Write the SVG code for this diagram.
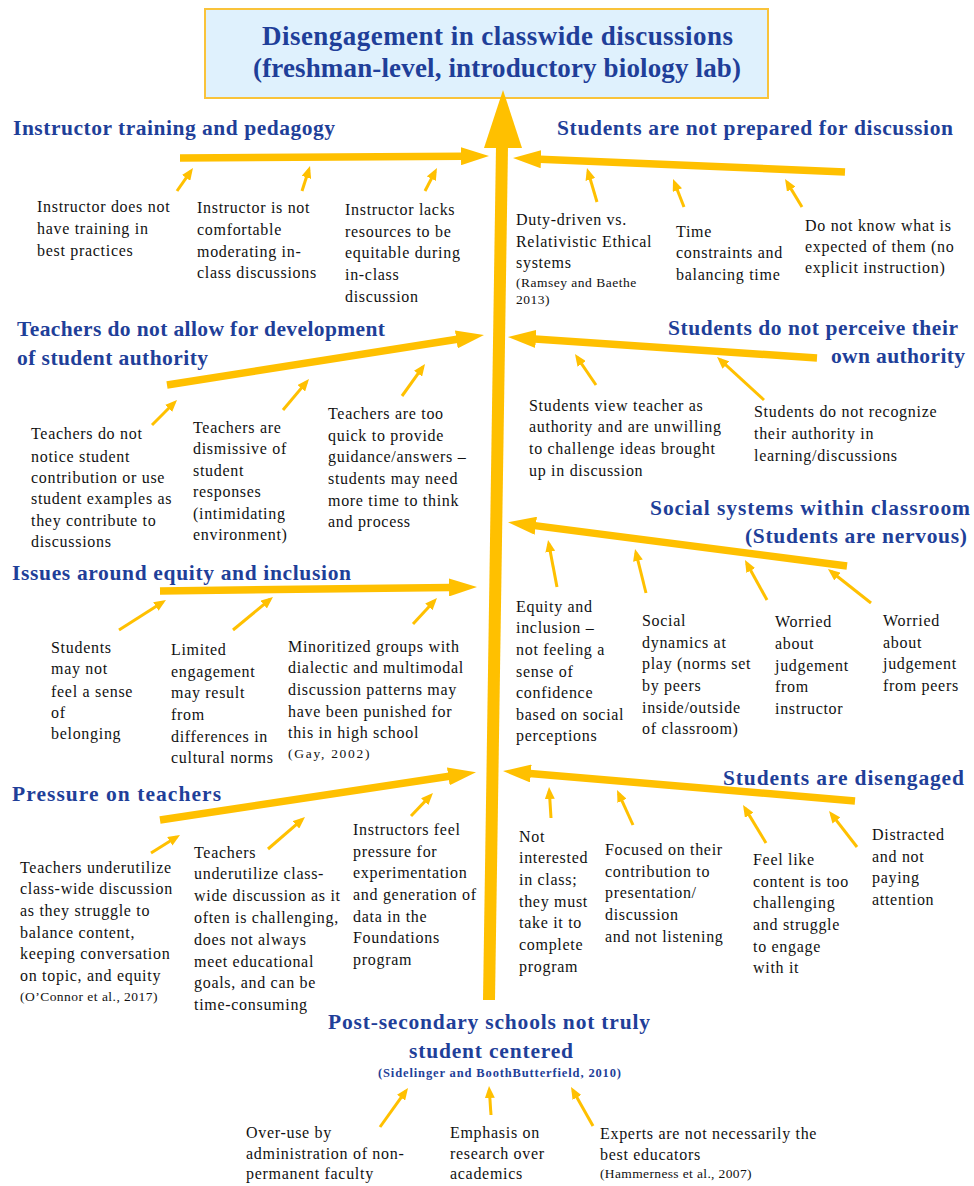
<svg xmlns="http://www.w3.org/2000/svg" width="974" height="1186" viewBox="0 0 974 1186">
  <defs>
    <style>
      .t { font-family: "Liberation Serif", "Times New Roman", serif; font-size: 16px; letter-spacing: 0.7px; fill: #111111; }
      .s { font-size: 13.5px; letter-spacing: 0.5px; }
      .h { font-family: "Liberation Serif", "Times New Roman", serif; font-weight: bold; font-size: 21.5px; fill: #1F3F99; }
      .ttl { font-size: 27px; }
      .cite { font-size: 12.5px; }
      .thick { fill: none; stroke: #FFC000; stroke-width: 7.5; marker-end: url(#bigHead); }
      .thin { fill: none; stroke: #FFC000; stroke-width: 3; marker-end: url(#smallHead); }
      .trunk { fill: none; stroke: #FFC000; stroke-width: 12; }
      .head { fill: #FFC000; }
    </style>
    <marker id="bigHead" viewBox="0 0 28 18" markerWidth="28" markerHeight="18" refX="1" refY="9" markerUnits="userSpaceOnUse" orient="auto">
      <path d="M0,0 L28,9 L0,18 Z" fill="#FFC000"/>
    </marker>
    <marker id="smallHead" viewBox="0 0 12 10" markerWidth="12" markerHeight="10" refX="8" refY="5" markerUnits="userSpaceOnUse" orient="auto">
      <path d="M0,0 L12,5 L0,10 Z" fill="#FFC000"/>
    </marker>
  </defs>

  <rect width="974" height="1186" fill="#FFFFFF"/>

  <!-- Effect box -->
  <g id="title">
    <rect x="205" y="9" width="563" height="89" fill="#DFF1FD" stroke="#F9C33A" stroke-width="2"/>
    <text class="h ttl" x="262" y="45" textLength="471" lengthAdjust="spacing">Disengagement in classwide discussions</text>
    <text class="h ttl" x="253" y="77" textLength="488" lengthAdjust="spacing">(freshman-level, introductory biology lab)</text>
  </g>

  <!-- Connectors: spine, category bones and cause arrows -->
  <g id="connectors">
    <path class="trunk" d="M489,1000 L502,146"/>
    <polygon class="head" points="503,90 522,148 484,148"/>

    <path class="thick" d="M180,158 L462,156.2"/>
    <path class="thick" d="M845,172 L540,159.2"/>
    <path class="thick" d="M167,385 L457.3,339.3"/>
    <path class="thick" d="M817,358 L534.9,338.9"/>
    <path class="thick" d="M847,566 L534.8,525.6"/>
    <path class="thick" d="M160,591 L450,587.4"/>
    <path class="thick" d="M160,820 L449.3,776.2"/>
    <path class="thick" d="M855,801 L529.9,773.4"/>

    <path class="thin" d="M177,191 L190.7,171.3"/>
    <path class="thin" d="M302,191 L308.8,169.8"/>
    <path class="thin" d="M425,191 L435.1,171.6"/>

    <path class="thin" d="M597,202 L588.1,171.8"/>
    <path class="thin" d="M684,207 L674.5,182.7"/>
    <path class="thin" d="M802,207 L787.1,182.4"/>

    <path class="thin" d="M152,425 L174.2,402.8"/>
    <path class="thin" d="M283,410 L306.4,382.1"/>
    <path class="thin" d="M402,396 L422.7,367.2"/>

    <path class="thin" d="M596,385 L577.2,357.3"/>
    <path class="thin" d="M764,400 L720,359.7"/>

    <path class="thin" d="M557,587 L548.8,543.9"/>
    <path class="thin" d="M646,593 L636,552.9"/>
    <path class="thin" d="M767,600 L746.9,563.5"/>
    <path class="thin" d="M871,603 L831.1,571.5"/>

    <path class="thin" d="M119,630 L162.6,602.2"/>
    <path class="thin" d="M233,630 L269.9,599.5"/>
    <path class="thin" d="M413,624 L434.3,600.9"/>

    <path class="thin" d="M151,853 L176.6,837.1"/>
    <path class="thin" d="M268,849 L302,819.6"/>
    <path class="thin" d="M411,816 L430.2,795.9"/>

    <path class="thin" d="M551,818 L549.3,791"/>
    <path class="thin" d="M633,825 L618.7,793.6"/>
    <path class="thin" d="M766,843 L745.1,808.4"/>
    <path class="thin" d="M857,847 L831.5,814.2"/>

    <path class="thin" d="M380,1127 L405.7,1091.2"/>
    <path class="thin" d="M491,1115 L489.3,1090"/>
    <path class="thin" d="M593,1126 L573,1090.5"/>
  </g>

  <!-- Category: instructor training -->
  <g id="cat-instructor">
    <text class="h" x="13" y="135" textLength="322" lengthAdjust="spacing">Instructor training and pedagogy</text>
  </g>
  <g id="c-no-training">
    <text class="t"><tspan x="37" y="212">Instructor does not</tspan><tspan x="37" y="234">have training in</tspan><tspan x="37" y="256">best practices</tspan></text>
  </g>
  <g id="c-not-comfortable">
    <text class="t"><tspan x="197" y="213">Instructor is not</tspan><tspan x="197" y="235">comfortable</tspan><tspan x="197" y="257">moderating in-</tspan><tspan x="197" y="278">class discussions</tspan></text>
  </g>
  <g id="c-lacks-resources">
    <text class="t"><tspan x="345" y="215">Instructor lacks</tspan><tspan x="345" y="237">resources to be</tspan><tspan x="345" y="258">equitable during</tspan><tspan x="345" y="280">in-class</tspan><tspan x="345" y="302">discussion</tspan></text>
  </g>

  <!-- Category: students not prepared -->
  <g id="cat-not-prepared">
    <text class="h" x="557" y="135" textLength="396" lengthAdjust="spacing">Students are not prepared for discussion</text>
  </g>
  <g id="c-ethical-systems">
    <text class="t"><tspan x="516" y="225">Duty-driven vs.</tspan><tspan x="516" y="247">Relativistic Ethical</tspan><tspan x="516" y="268">systems</tspan><tspan class="s" x="516" y="287">(Ramsey and Baethe</tspan><tspan class="s" x="516" y="304">2013)</tspan></text>
  </g>
  <g id="c-time">
    <text class="t"><tspan x="676" y="237">Time</tspan><tspan x="676" y="258">constraints and</tspan><tspan x="676" y="280">balancing time</tspan></text>
  </g>
  <g id="c-expectations">
    <text class="t"><tspan x="805" y="231">Do not know what is</tspan><tspan x="805" y="252">expected of them (no</tspan><tspan x="805" y="273">explicit instruction)</tspan></text>
  </g>

  <!-- Category: teachers and student authority -->
  <g id="cat-teacher-authority">
    <text class="h" x="17" y="336" textLength="368" lengthAdjust="spacing">Teachers do not allow for development</text>
    <text class="h" x="17" y="365" textLength="191" lengthAdjust="spacing">of student authority</text>
  </g>
  <g id="c-not-notice">
    <text class="t"><tspan x="31" y="439">Teachers do not</tspan><tspan x="31" y="462">notice student</tspan><tspan x="31" y="483">contribution or use</tspan><tspan x="31" y="504">student examples as</tspan><tspan x="31" y="526">they contribute to</tspan><tspan x="31" y="547">discussions</tspan></text>
  </g>
  <g id="c-dismissive">
    <text class="t"><tspan x="193" y="433">Teachers are</tspan><tspan x="193" y="454">dismissive of</tspan><tspan x="193" y="476">student</tspan><tspan x="193" y="497">responses</tspan><tspan x="193" y="519">(intimidating</tspan><tspan x="193" y="540">environment)</tspan></text>
  </g>
  <g id="c-too-quick">
    <text class="t"><tspan x="328" y="419">Teachers are too</tspan><tspan x="328" y="441">quick to provide</tspan><tspan x="328" y="462">guidance/answers  –</tspan><tspan x="328" y="484">students may need</tspan><tspan x="328" y="506">more time to think</tspan><tspan x="328" y="527">and process</tspan></text>
  </g>

  <!-- Category: students' own authority -->
  <g id="cat-own-authority">
    <text class="h" x="668" y="335" textLength="290" lengthAdjust="spacing">Students do not perceive their</text>
    <text class="h" x="831" y="363" textLength="134" lengthAdjust="spacing">own authority</text>
  </g>
  <g id="c-teacher-as-authority">
    <text class="t"><tspan x="529" y="411">Students view teacher as</tspan><tspan x="529" y="432">authority and are unwilling</tspan><tspan x="529" y="454">to challenge ideas brought</tspan><tspan x="529" y="476">up in discussion</tspan></text>
  </g>
  <g id="c-not-recognize">
    <text class="t"><tspan x="754" y="417">Students do not recognize</tspan><tspan x="754" y="439">their authority in</tspan><tspan x="754" y="461">learning/discussions</tspan></text>
  </g>

  <!-- Category: social systems -->
  <g id="cat-social">
    <text class="h" x="650" y="515" textLength="320" lengthAdjust="spacing">Social systems within classroom</text>
    <text class="h" x="745" y="543" textLength="222" lengthAdjust="spacing">(Students are nervous)</text>
  </g>
  <g id="c-confidence">
    <text class="t"><tspan x="516" y="612">Equity and</tspan><tspan x="516" y="633">inclusion –</tspan><tspan x="516" y="655">not feeling a</tspan><tspan x="516" y="677">sense of</tspan><tspan x="516" y="698">confidence</tspan><tspan x="516" y="720">based on social</tspan><tspan x="516" y="741">perceptions</tspan></text>
  </g>
  <g id="c-social-dynamics">
    <text class="t"><tspan x="642" y="626">Social</tspan><tspan x="642" y="648">dynamics at</tspan><tspan x="642" y="669">play (norms set</tspan><tspan x="642" y="691">by peers</tspan><tspan x="642" y="713">inside/outside</tspan><tspan x="642" y="734">of classroom)</tspan></text>
  </g>
  <g id="c-judged-instructor">
    <text class="t"><tspan x="775" y="627">Worried</tspan><tspan x="775" y="649">about</tspan><tspan x="775" y="671">judgement</tspan><tspan x="775" y="692">from</tspan><tspan x="775" y="714">instructor</tspan></text>
  </g>
  <g id="c-judged-peers">
    <text class="t"><tspan x="883" y="626">Worried</tspan><tspan x="883" y="648">about</tspan><tspan x="883" y="669">judgement</tspan><tspan x="883" y="691">from peers</tspan></text>
  </g>

  <!-- Category: equity and inclusion -->
  <g id="cat-equity">
    <text class="h" x="12" y="580" textLength="339" lengthAdjust="spacing">Issues around equity and inclusion</text>
  </g>
  <g id="c-belonging">
    <text class="t"><tspan x="51" y="653">Students</tspan><tspan x="51" y="674">may not</tspan><tspan x="51" y="697">feel a sense</tspan><tspan x="51" y="718">of</tspan><tspan x="51" y="739">belonging</tspan></text>
  </g>
  <g id="c-cultural-norms">
    <text class="t"><tspan x="171" y="655">Limited</tspan><tspan x="171" y="677">engagement</tspan><tspan x="171" y="698">may result</tspan><tspan x="171" y="720">from</tspan><tspan x="171" y="742">differences in</tspan><tspan x="171" y="763">cultural norms</tspan></text>
  </g>
  <g id="c-minoritized">
    <text class="t"><tspan x="288" y="652">Minoritized groups with</tspan><tspan x="288" y="673">dialectic and multimodal</tspan><tspan x="288" y="695">discussion patterns may</tspan><tspan x="288" y="717">have been punished for</tspan><tspan x="288" y="738">this in high school</tspan><tspan class="s" x="288" y="758" textLength="82" lengthAdjust="spacing">(Gay, 2002)</tspan></text>
  </g>

  <!-- Category: pressure on teachers -->
  <g id="cat-pressure">
    <text class="h" x="12" y="801" textLength="209" lengthAdjust="spacing">Pressure on teachers</text>
  </g>
  <g id="c-balance">
    <text class="t"><tspan x="20" y="873">Teachers underutilize</tspan><tspan x="20" y="894">class-wide discussion</tspan><tspan x="20" y="916">as they struggle to</tspan><tspan x="20" y="938">balance content,</tspan><tspan x="20" y="959">keeping conversation</tspan><tspan x="20" y="981">on topic, and equity</tspan><tspan class="s" x="20" y="1001" textLength="138" lengthAdjust="spacing">(O’Connor et al., 2017)</tspan></text>
  </g>
  <g id="c-time-consuming">
    <text class="t"><tspan x="194" y="858">Teachers</tspan><tspan x="194" y="879">underutilize class-</tspan><tspan x="194" y="901">wide discussion as it</tspan><tspan x="194" y="923">often is challenging,</tspan><tspan x="194" y="945">does not always</tspan><tspan x="194" y="967">meet educational</tspan><tspan x="194" y="988">goals, and can be</tspan><tspan x="194" y="1010">time-consuming</tspan></text>
  </g>
  <g id="c-experimentation">
    <text class="t"><tspan x="353" y="835">Instructors feel</tspan><tspan x="353" y="857">pressure for</tspan><tspan x="353" y="878">experimentation</tspan><tspan x="353" y="900">and generation of</tspan><tspan x="353" y="922">data in the</tspan><tspan x="353" y="943">Foundations</tspan><tspan x="353" y="965">program</tspan></text>
  </g>

  <!-- Category: students disengaged -->
  <g id="cat-disengaged">
    <text class="h" x="723" y="785" textLength="241" lengthAdjust="spacing">Students are disengaged</text>
  </g>
  <g id="c-not-interested">
    <text class="t"><tspan x="519" y="842">Not</tspan><tspan x="519" y="863">interested</tspan><tspan x="519" y="885">in class;</tspan><tspan x="519" y="907">they must</tspan><tspan x="519" y="928">take it to</tspan><tspan x="519" y="950">complete</tspan><tspan x="519" y="972">program</tspan></text>
  </g>
  <g id="c-own-contribution">
    <text class="t"><tspan x="605" y="855">Focused on their</tspan><tspan x="605" y="877">contribution to</tspan><tspan x="605" y="898">presentation/</tspan><tspan x="605" y="920">discussion</tspan><tspan x="605" y="942">and not listening</tspan></text>
  </g>
  <g id="c-too-challenging">
    <text class="t"><tspan x="753" y="865">Feel like</tspan><tspan x="753" y="887">content is too</tspan><tspan x="753" y="908">challenging</tspan><tspan x="753" y="930">and struggle</tspan><tspan x="753" y="952">to engage</tspan><tspan x="753" y="973">with it</tspan></text>
  </g>
  <g id="c-distracted">
    <text class="t"><tspan x="872" y="840">Distracted</tspan><tspan x="872" y="862">and not</tspan><tspan x="872" y="883">paying</tspan><tspan x="872" y="905">attention</tspan></text>
  </g>

  <!-- Category: post-secondary schools -->
  <g id="cat-post-secondary">
    <text class="h" x="328" y="1029" textLength="322" lengthAdjust="spacing">Post-secondary schools not truly</text>
    <text class="h" x="409" y="1058" textLength="164" lengthAdjust="spacing">student centered</text>
    <text class="h cite" x="378" y="1077" textLength="243" lengthAdjust="spacing">(Sidelinger and BoothButterfield, 2010)</text>
  </g>
  <g id="c-non-permanent">
    <text class="t"><tspan x="246" y="1138">Over-use by</tspan><tspan x="246" y="1159">administration of non-</tspan><tspan x="246" y="1179">permanent faculty</tspan></text>
  </g>
  <g id="c-research">
    <text class="t"><tspan x="450" y="1138">Emphasis on</tspan><tspan x="450" y="1159">research over</tspan><tspan x="450" y="1179">academics</tspan></text>
  </g>
  <g id="c-experts">
    <text class="t"><tspan x="600" y="1139">Experts are not necessarily the</tspan><tspan x="600" y="1160">best educators</tspan><tspan class="s" x="600" y="1178" textLength="152" lengthAdjust="spacing">(Hammerness et al., 2007)</tspan></text>
  </g>
</svg>
